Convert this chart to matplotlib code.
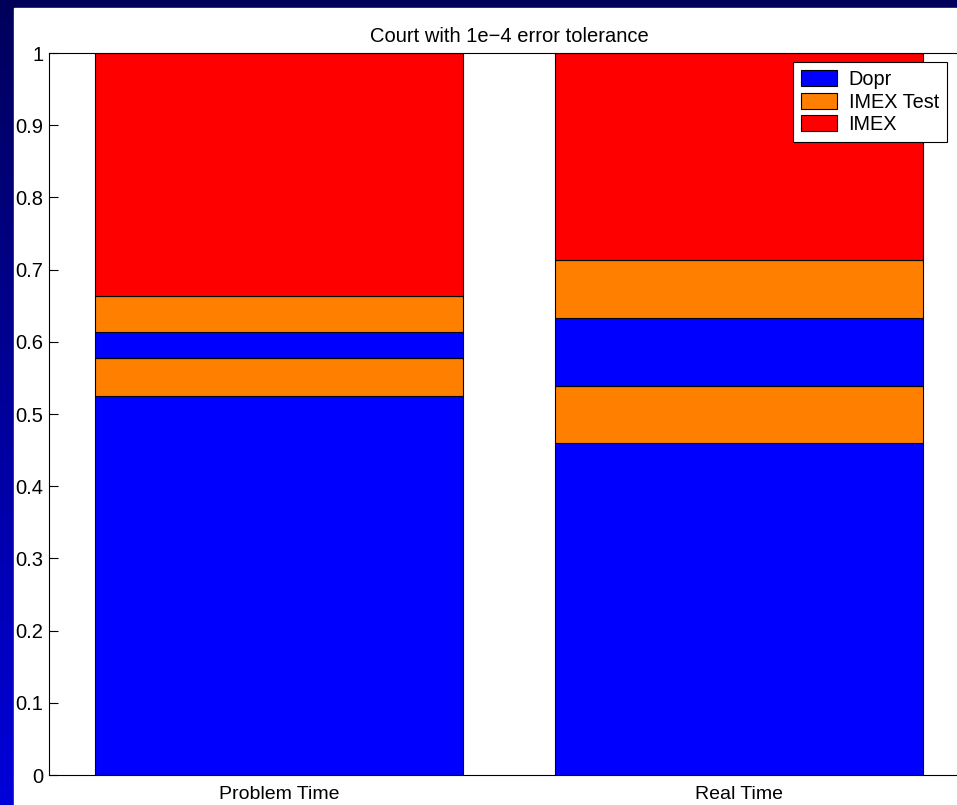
import numpy as np
import matplotlib
matplotlib.use('Agg')
import matplotlib.pyplot as plt
from matplotlib.colors import LinearSegmentedColormap
from matplotlib.patches import Rectangle

plt.rcParams['font.family'] = ['Liberation Sans', 'DejaVu Sans']

categories = ['Problem Time', 'Real Time']
# stacked fractions, bottom to top
dopr_a = [0.525, 0.460]
imex_test_a = [0.052, 0.079]
dopr_b = [0.036, 0.094]
imex_test_b = [0.050, 0.080]
imex = [0.337, 0.287]
yticks = [0, 0.1, 0.2, 0.3, 0.4, 0.5, 0.6, 0.7, 0.8, 0.9, 1]
ytick_labels = ['0', '0.1', '0.2', '0.3', '0.4', '0.5', '0.6', '0.7', '0.8', '0.9', '1']

W, H = 957, 805
fig = plt.figure(figsize=(W / 100, H / 100), dpi=100)

# slide-style background: navy gradient with a white panel
bg = fig.add_axes([0, 0, 1, 1], zorder=-10)
cmap = LinearSegmentedColormap.from_list('bg', ['#0000da', '#00005a'])
grad = np.linspace(0, 1, 256).reshape(-1, 1)
bg.imshow(grad, aspect='auto', cmap=cmap, extent=[0, 1, 0, 1], origin='lower')
bg.add_patch(Rectangle((14 / W, 0), 1, (H - 8) / H, color='white',
                       transform=bg.transAxes))
bg.set_xlim(0, 1)
bg.set_ylim(0, 1)
bg.axis('off')

ax = fig.add_axes([49 / W, 30 / H, 920 / W, 722 / H])
x = np.arange(1, len(categories) + 1)
stack = [(dopr_a, '#0000ff', 'Dopr'),
         (imex_test_a, '#ff8000', 'IMEX Test'),
         (dopr_b, '#0000ff', '_nolegend_'),
         (imex_test_b, '#ff8000', '_nolegend_'),
         (imex, '#ff0000', 'IMEX')]
bottom = np.zeros(len(categories))
for vals, col, lab in stack:
    ax.bar(x, vals, width=0.8, bottom=bottom, color=col, edgecolor='black',
           linewidth=0.8, label=lab)
    bottom += np.array(vals)

ax.set_xlim(0.5, 2.5)
ax.set_ylim(0, 1)
ax.set_xticks(x)
ax.set_xticklabels(categories, fontsize=14)
ax.set_yticks(yticks)
ax.set_yticklabels(ytick_labels, fontsize=14.5)
ax.tick_params(axis='y', direction='in', length=6.5, width=0.8, pad=4,
               right=True)
ax.tick_params(axis='x', length=0, pad=8)
for s in ax.spines.values():
    s.set_linewidth(0.8)

ax.set_title('Court with 1e\u22124 error tolerance', fontsize=14.5, pad=8)

leg = ax.legend(loc='upper left', bbox_to_anchor=(793 / W, 1 - 62 / H),
                bbox_transform=fig.transFigure, borderaxespad=0,
                fontsize=14.3, fancybox=False, framealpha=1,
                edgecolor='black', handlelength=1.8, handleheight=0.85,
                handletextpad=0.6, labelspacing=0.18, borderpad=0.4)
leg.get_frame().set_linewidth(0.8)

fig.savefig('out.png', dpi=100)
